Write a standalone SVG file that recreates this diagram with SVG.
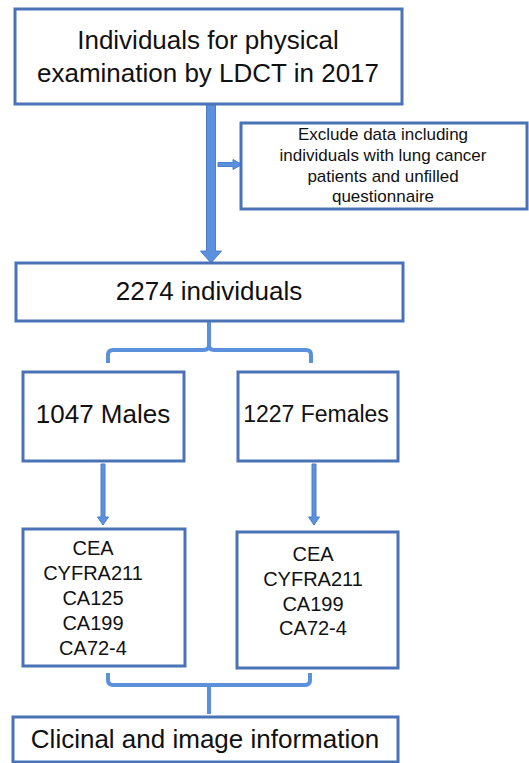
<svg xmlns="http://www.w3.org/2000/svg" width="529" height="763" viewBox="0 0 529 763">
<style>
.box{fill:#fff;stroke:#4A72B6;stroke-width:3}
.t{font-family:"Liberation Sans",Arial,sans-serif;fill:#111;text-anchor:middle}
.br{fill:none;stroke:#5B90DC;stroke-width:4;stroke-linejoin:round}
.ar{fill:#5B90DC;stroke:#4A7FCC;stroke-width:1}
</style>
<rect width="529" height="763" fill="#fff"/>
<g id="connectors">
  <path class="ar" d="M206.5,104 H215.5 V251 H221.5 L211,263 L200.5,251 H206.5 Z"/>
  <path class="ar" d="M218,162.5 H233 V159.5 L242,164.5 L233,169.5 V166.5 H218 Z"/>
  <path class="br" d="M209,321 V345 Q209,350 204,350 H113 Q108,350 108,355 V363"/>
  <path class="br" d="M209,345 Q209,350 214,350 H306 Q311,350 311,355 V363"/>
  <path class="ar" d="M101,464 H105 V517 H108.5 L103,525 L97.5,517 H101 Z"/>
  <path class="ar" d="M312,464 H316 V517 H319.5 L314,525 L308.5,517 H312 Z"/>
  <path class="br" d="M108,673 V680 Q108,685 113,685 H305 Q310,685 310,680 V673"/>
  <path class="br" d="M209,685 V714"/>
</g>
<g id="n1">
  <rect class="box" x="15" y="9" width="387" height="95"/>
  <text class="t" x="208" y="49" font-size="26">Individuals for physical</text>
  <text class="t" x="208" y="82" font-size="26">examination by LDCT in 2017</text>
</g>
<g id="n2">
  <rect class="box" x="241" y="123" width="286" height="86"/>
  <text class="t" x="383" y="140" font-size="17">Exclude data including</text>
  <text class="t" x="383" y="161" font-size="17">individuals with lung cancer</text>
  <text class="t" x="383" y="182" font-size="17">patients and unfilled</text>
  <text class="t" x="383" y="202" font-size="17">questionnaire</text>
</g>
<g id="n3">
  <rect class="box" x="16" y="263" width="387" height="58"/>
  <text class="t" x="209" y="300" font-size="26">2274 individuals</text>
</g>
<g id="n4">
  <rect class="box" x="23" y="372" width="161" height="89"/>
  <text class="t" x="103" y="423" font-size="26">1047 Males</text>
</g>
<g id="n5">
  <rect class="box" x="238" y="372" width="160" height="89"/>
  <text class="t" x="316" y="422" font-size="23">1227 Females</text>
</g>
<g id="n6">
  <rect class="box" x="23" y="529" width="162" height="137"/>
  <text class="t" x="93" y="555" font-size="20">CEA</text>
  <text class="t" x="93" y="580" font-size="20">CYFRA211</text>
  <text class="t" x="93" y="605" font-size="20">CA125</text>
  <text class="t" x="93" y="630" font-size="20">CA199</text>
  <text class="t" x="93" y="655" font-size="20">CA72-4</text>
</g>
<g id="n7">
  <rect class="box" x="237" y="532" width="161" height="136"/>
  <text class="t" x="313" y="561" font-size="20">CEA</text>
  <text class="t" x="313" y="586" font-size="20">CYFRA211</text>
  <text class="t" x="313" y="611" font-size="20">CA199</text>
  <text class="t" x="313" y="635" font-size="20">CA72-4</text>
</g>
<g id="n8">
  <rect class="box" x="13" y="717" width="385" height="45"/>
  <text class="t" x="205" y="748" font-size="26">Clicinal and image information</text>
</g>
</svg>
